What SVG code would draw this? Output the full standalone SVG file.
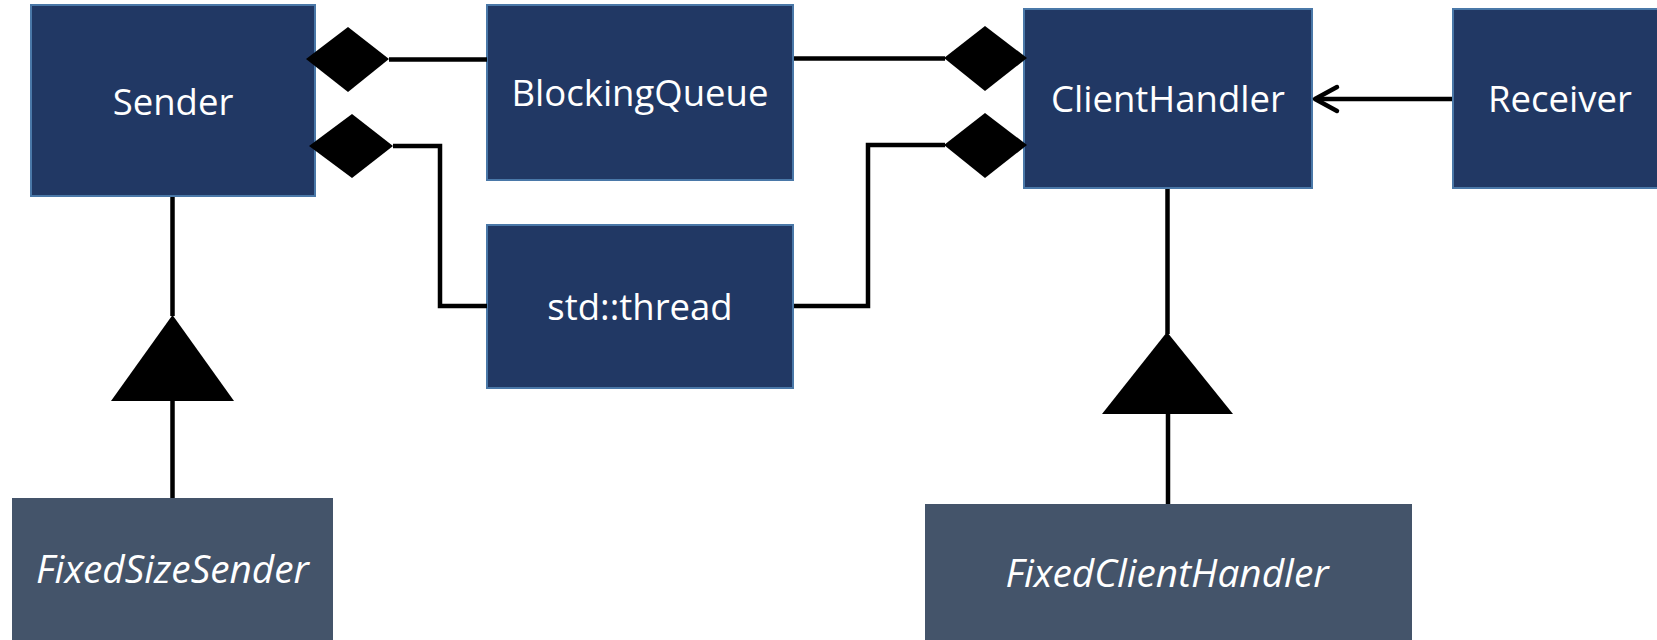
<svg xmlns="http://www.w3.org/2000/svg" width="1657" height="640" viewBox="0 0 1657 640">
<style>
.box{fill:#213864;stroke:#4a78a8;stroke-width:2}
.sub{fill:#44546a}
.lbl{font-family:"Open Sans","Noto Sans",sans-serif;font-size:36.5px;fill:#ffffff;text-anchor:middle}
.it{font-style:italic;font-size:38.8px}
.ln{fill:none;stroke:#000;stroke-width:4.5}
.hd{fill:#000}
</style>
<rect width="1657" height="640" fill="#ffffff"/>
<g id="Sender"><rect class="box" x="31" y="5" width="284" height="191"/><text class="lbl" x="173" y="115">Sender</text></g>
<g id="BlockingQueue"><rect class="box" x="487" y="5" width="306" height="175"/><text class="lbl" x="640" y="106">BlockingQueue</text></g>
<g id="ClientHandler"><rect class="box" x="1024" y="9" width="288" height="179"/><text class="lbl" x="1168" y="112">ClientHandler</text></g>
<g id="Receiver"><rect class="box" x="1453" y="9" width="214" height="179"/><text class="lbl" x="1560" y="112">Receiver</text></g>
<g id="std-thread"><rect class="box" x="487" y="225" width="306" height="163"/><text class="lbl" x="640" y="320">std::thread</text></g>
<g id="FixedSizeSender"><rect class="sub" x="12" y="498" width="321" height="144"/><text class="lbl it" x="172.5" y="583">FixedSizeSender</text></g>
<g id="FixedClientHandler"><rect class="sub" x="925" y="504" width="487" height="138"/><text class="lbl it" x="1167" y="587">FixedClientHandler</text></g>
<g id="connectors">
  <path class="ln" d="M389,59.5 H487"/>
  <polygon class="hd" points="306,59 348,27 389,59 348,92"/>
  <path class="ln" d="M393,146 H440 V306 H487"/>
  <polygon class="hd" points="309,146 352,114 393,146 352,178"/>
  <path class="ln" d="M794,58.5 H945"/>
  <polygon class="hd" points="944,58 985,26 1027,58 985,91"/>
  <path class="ln" d="M945,145 H868 V306 H794"/>
  <polygon class="hd" points="944,145 985,113 1027,145 985,178"/>
  <path class="ln" d="M1452,99 H1316"/>
  <path class="ln" d="M1337,87 L1315,99 L1337,111" stroke-linecap="round" stroke-linejoin="round"/>
  <path class="ln" d="M172.5,197 V316 M172.5,400 V498"/>
  <polygon class="hd" points="172.5,315 234,401 111,401"/>
  <path class="ln" d="M1167.5,189 V334 M1168,413 V504"/>
  <polygon class="hd" points="1167,332 1233,414 1102,414"/>
</g>
</svg>
